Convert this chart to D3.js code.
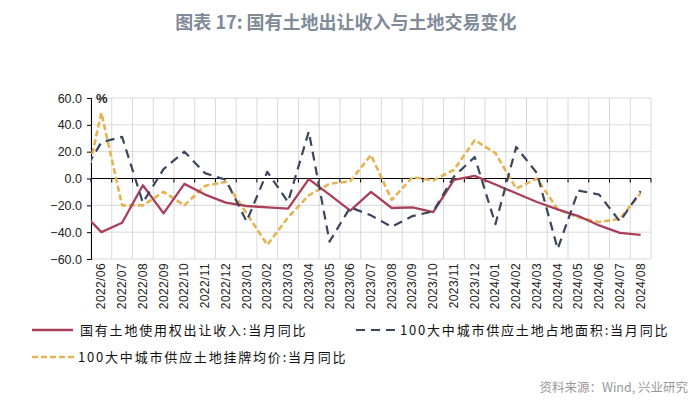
<!DOCTYPE html>
<html><head><meta charset="utf-8">
<script src="https://cdn.jsdelivr.net/npm/d3@7"></script>
<style>
html,body{margin:0;padding:0;background:#fff;}
svg{display:block;}
</style></head>
<body>
<svg id="chart" width="700" height="409"></svg>
<script>
// Months (first one is before the visible axis; the line is clipped at the plot edge)
const months = ["2022/05","2022/06","2022/07","2022/08","2022/09","2022/10","2022/11","2022/12",
  "2023/01","2023/02","2023/03","2023/04","2023/05","2023/06","2023/07","2023/08","2023/09",
  "2023/10","2023/11","2023/12","2024/01","2024/02","2024/03","2024/04","2024/05","2024/06",
  "2024/07","2024/08"];
const xLabels = months.slice(1);

const landRevenue = [-24, -40, -33, -5, -26, -4, -12, -18, -20.5, -21.5, -22.5, -0.5, -12, -24, -10,
  -22, -21.5, -25, -1, 2, -4.5, -11, -17.5, -23, -28, -35, -40.5, -42];
const landArea = [1, 27, 31, -18, 7, 20, 4, -1, -32, 5, -17.5, 35, -47, -21.5, -27.5,
  -36, -28, -24.5, 1.5, 16, -34, 23.5, 4, -52.5, -9, -12, -32, -9.5];
const landPrice = [-21, 49, -20, -20, -10, -20, -5.5, -2.5, -26, -49.5, -29, -12.5, -4, -2, 17.5,
  -16, 1, -1.5, 6.5, 28.5, 19, -7.5, 0, -23, -29, -32.5, -30, -11];

const yTicks = [60, 40, 20, 0, -20, -40, -60];

const seriesNames = ["国有土地使用权出让收入:当月同比", "100大中城市供应土地占地面积:当月同比", "100大中城市供应土地挂牌均价:当月同比"];
const title = "图表 17: 国有土地出让收入与土地交易变化";
const source = "资料来源：Wind, 兴业研究";

const svg = d3.select("#chart");
const X0 = 91, X1 = 651, Y0 = 98, Y1 = 259;
const n = xLabels.length;

const x = d3.scaleLinear().domain([-0.5, n - 0.5]).range([X0, X1]);
const y = d3.scaleLinear().domain([-60, 60]).range([Y1, Y0]);

// Title
svg.append("text").attr("x", 346).attr("y", 29).attr("text-anchor", "middle")
  .attr("font-family", "'Noto Sans CJK SC', 'Noto Sans', sans-serif")
  .attr("font-size", 18).attr("font-weight", "bold").attr("fill", "#808a99").text(title);

// Grid
const grid = svg.append("g");
grid.selectAll("line.h").data(yTicks).join("line")
  .attr("x1", X0).attr("x2", X1).attr("y1", d => y(d)).attr("y2", d => y(d))
  .attr("stroke", "#d9d9d9").attr("stroke-width", 1);
grid.selectAll("line.v").data(d3.range(n + 1)).join("line")
  .attr("x1", d => x(d - 0.5)).attr("x2", d => x(d - 0.5)).attr("y1", Y0).attr("y2", Y1)
  .attr("stroke", "#d9d9d9").attr("stroke-width", 1);

// Y axis
const yAxis = svg.append("g").attr("transform", `translate(${X0},0)`)
  .call(d3.axisLeft(y).tickValues(yTicks).tickSize(4).tickFormat(d3.format(".1f")));
yAxis.select(".domain").attr("stroke", "#000");
yAxis.selectAll(".tick line").attr("stroke", "#000");
yAxis.selectAll("text").attr("font-family", "'Liberation Sans', Arial, sans-serif")
  .attr("font-size", 12.5).attr("fill", "#222").attr("x", -9);

// Zero line with ticks
svg.append("line").attr("x1", X0).attr("x2", X1).attr("y1", y(0)).attr("y2", y(0))
  .attr("stroke", "#000").attr("stroke-width", 1.2);
svg.append("g").selectAll("line").data(d3.range(n + 1)).join("line")
  .attr("x1", d => x(d - 0.5)).attr("x2", d => x(d - 0.5)).attr("y1", y(0)).attr("y2", y(0) + 4)
  .attr("stroke", "#000");

// % label
svg.append("text").attr("x", 96).attr("y", 103).attr("font-family", "'Liberation Sans', Arial, sans-serif")
  .attr("font-size", 13).attr("font-weight", "bold").attr("fill", "#222").text("%");

// X labels
svg.append("g").selectAll("text").data(xLabels).join("text")
  .attr("transform", (d, i) => `translate(${x(i) + 4},${Y1 + 4}) rotate(-90)`)
  .attr("text-anchor", "end")
  .attr("font-family", "'Liberation Sans', Arial, sans-serif")
  .attr("font-size", 12).attr("letter-spacing", 0.4).attr("fill", "#222").text(d => d);

// Lines
svg.append("clipPath").attr("id", "clip").append("rect")
  .attr("x", X0).attr("y", Y0 - 5).attr("width", X1 - X0).attr("height", Y1 - Y0 + 10);
const line = d3.line().x((d, i) => x(i - 1)).y(d => y(d));
const lines = svg.append("g").attr("clip-path", "url(#clip)");
const styles = [
  {data: landRevenue, color: "#a8405a", width: 2.3, dash: null},
  {data: landArea, color: "#3a455e", width: 2.2, dash: "9,6"},
  {data: landPrice, color: "#e6b352", width: 2.6, dash: "6,3"}
];
// draw order: price, area, revenue? revenue on top in reference appears under blue; keep area on top
[styles[2], styles[0], styles[1]].forEach(s => {
  lines.append("path").datum(s.data).attr("d", line).attr("fill", "none")
    .attr("stroke", s.color).attr("stroke-width", s.width)
    .attr("stroke-dasharray", s.dash).attr("stroke-linejoin", "round");
});

// Legend
const lg = svg.append("g").attr("font-family", "'Noto Sans CJK SC', sans-serif")
  .attr("font-size", 13).attr("fill", "#111");
const legendItems = [
  {s: styles[0], x1: 32, x2: 73, tx: 80, ty: 330, label: seriesNames[0]},
  {s: styles[1], x1: 356, x2: 399, tx: 400, ty: 330, label: seriesNames[1]},
  {s: styles[2], x1: 32, x2: 75, tx: 78, ty: 357, label: seriesNames[2]}
];
legendItems.forEach(it => {
  lg.append("line").attr("x1", it.x1).attr("x2", it.x2).attr("y1", it.ty).attr("y2", it.ty)
    .attr("stroke", it.s.color).attr("stroke-width", it.s.width)
    .attr("stroke-dasharray", it.s.dash);
  lg.append("text").attr("x", it.tx).attr("y", it.ty + 4.5).attr("letter-spacing", 1.8).text(it.label);
});

// Source
svg.append("text").attr("x", 688).attr("y", 392).attr("text-anchor", "end")
  .attr("font-family", "'Noto Sans CJK SC', sans-serif").attr("font-size", 12.5)
  .attr("fill", "#999").text(source);
</script>
</body></html>
